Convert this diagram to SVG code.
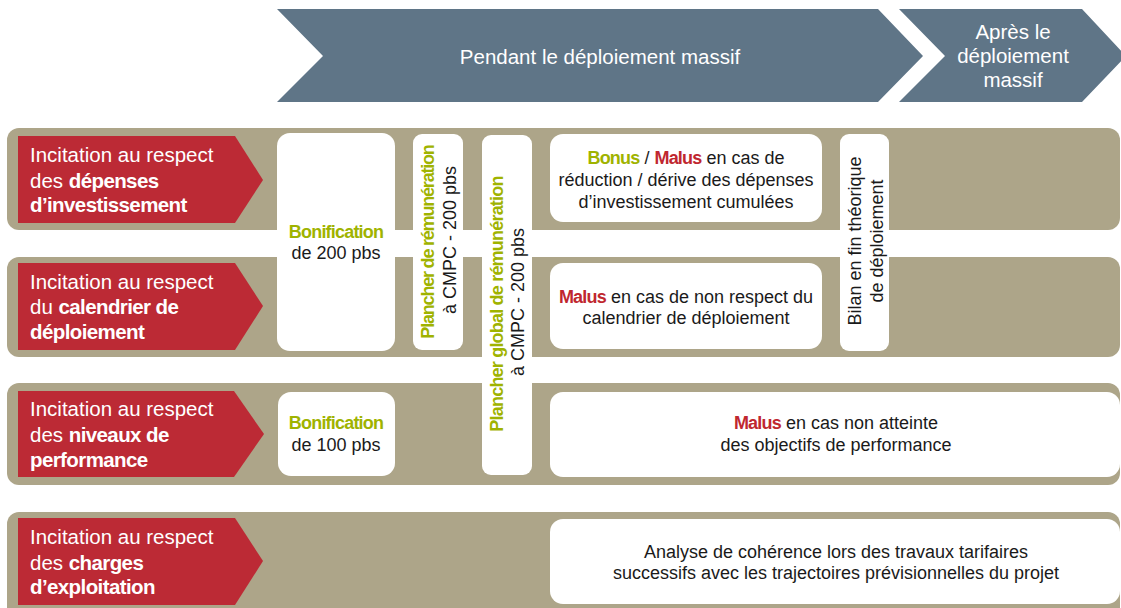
<svg xmlns="http://www.w3.org/2000/svg" width="1121" height="608" viewBox="0 0 1121 608">
<style>
text{font-family:"Liberation Sans",Arial,sans-serif;}
.phase{fill:#5f7587;}
.ph{fill:#ffffff;font-size:20.5px;text-anchor:middle;}
.row{fill:#ada589;}
.arrow{fill:#bc2a35;}
.lbl{fill:#ffffff;font-size:20.5px;}
.lbl .b{font-weight:bold;letter-spacing:-0.6px;}
.box{fill:#ffffff;}
.t{fill:#1a1a1a;font-size:18px;text-anchor:middle;}
.g{fill:#9fb300;font-weight:bold;letter-spacing:-0.8px;}
.r{fill:#c0272f;font-weight:bold;letter-spacing:-0.8px;}
</style>
<rect width="1121" height="608" fill="#ffffff"/>
<g id="phase-pendant">
<polygon class="phase" points="277,9 878,9 923,56 878,102 277,102 323,56"/>
<text class="ph" x="600" y="64">Pendant le déploiement massif</text>
</g>
<g id="phase-apres">
<polygon class="phase" points="899,9 1082,9 1126,56 1082,102 899,102 945,56"/>
<text class="ph" x="1013" y="39">Après le</text>
<text class="ph" x="1013" y="63">déploiement</text>
<text class="ph" x="1013" y="87">massif</text>
</g>
<g id="row-depenses">
<rect class="row" x="7" y="128" width="1113" height="102" rx="12"/>
<polygon class="arrow" points="18,136 235,136 263,180 235,223 18,223"/>
<text class="lbl" x="30" y="162">Incitation au respect</text>
<text class="lbl" x="30" y="188">des <tspan class="b">dépenses</tspan></text>
<text class="lbl" x="30" y="212"><tspan class="b">d’investissement</tspan></text>
</g>
<g id="row-calendrier">
<rect class="row" x="7" y="257" width="1113" height="100" rx="12"/>
<polygon class="arrow" points="18,263 235,263 263,306 235,350 18,350"/>
<text class="lbl" x="30" y="289">Incitation au respect</text>
<text class="lbl" x="30" y="314">du <tspan class="b">calendrier de</tspan></text>
<text class="lbl" x="30" y="339"><tspan class="b">déploiement</tspan></text>
</g>
<g id="row-performance">
<rect class="row" x="7" y="383" width="1113" height="102" rx="12"/>
<polygon class="arrow" points="18,391 234,391 264,434 234,477 18,477"/>
<text class="lbl" x="30" y="416">Incitation au respect</text>
<text class="lbl" x="30" y="442">des <tspan class="b">niveaux de</tspan></text>
<text class="lbl" x="30" y="467"><tspan class="b">performance</tspan></text>
</g>
<g id="row-charges">
<rect class="row" x="7" y="512" width="1113" height="110" rx="12"/>
<polygon class="arrow" points="18,518 235,518 263,561 235,605 18,605"/>
<text class="lbl" x="30" y="544">Incitation au respect</text>
<text class="lbl" x="30" y="570">des <tspan class="b">charges</tspan></text>
<text class="lbl" x="30" y="594"><tspan class="b">d’exploitation</tspan></text>
</g>
<g id="bonif-200">
<rect class="box" x="277" y="133" width="118" height="218" rx="13"/>
<text class="t" x="336" y="238"><tspan class="g">Bonification</tspan></text>
<text class="t" x="336" y="259">de 200 pbs</text>
</g>
<g id="plancher">
<rect class="box" x="413" y="134" width="50" height="216" rx="9"/>
<text class="t" x="434" y="242" transform="rotate(-90 434 242)"><tspan class="g" style="letter-spacing:-1.2px">Plancher de rémunération</tspan></text>
<text class="t" x="456" y="240" transform="rotate(-90 456 240)">à CMPC - 200 pbs</text>
</g>
<g id="plancher-global">
<rect class="box" x="482" y="135" width="50" height="340" rx="9"/>
<text class="t" x="503" y="304" transform="rotate(-90 503 304)"><tspan class="g">Plancher global de rémunération</tspan></text>
<text class="t" x="524" y="302" transform="rotate(-90 524 302)">à CMPC - 200 pbs</text>
</g>
<g id="bonus-malus-depenses">
<rect class="box" x="550" y="134" width="272" height="88" rx="13"/>
<text class="t" x="686" y="164"><tspan class="g">Bonus</tspan> / <tspan class="r">Malus</tspan> en cas de</text>
<text class="t" x="686" y="186">réduction / dérive des dépenses</text>
<text class="t" x="686" y="208">d’investissement cumulées</text>
</g>
<g id="malus-calendrier">
<rect class="box" x="550" y="263" width="272" height="86" rx="13"/>
<text class="t" x="686" y="303"><tspan class="r">Malus</tspan> en cas de non respect du</text>
<text class="t" x="686" y="324">calendrier de déploiement</text>
</g>
<g id="bilan">
<rect class="box" x="840" y="134" width="49" height="217" rx="9"/>
<text class="t" x="861" y="241" transform="rotate(-90 861 241)">Bilan en fin théorique</text>
<text class="t" x="883" y="241" transform="rotate(-90 883 241)">de déploiement</text>
</g>
<g id="bonif-100">
<rect class="box" x="278" y="392" width="117" height="84" rx="13"/>
<text class="t" x="336" y="429"><tspan class="g">Bonification</tspan></text>
<text class="t" x="336" y="451">de 100 pbs</text>
</g>
<g id="malus-performance">
<rect class="box" x="550" y="392" width="570" height="85" rx="13"/>
<text class="t" x="836" y="429"><tspan class="r">Malus</tspan> en cas non atteinte</text>
<text class="t" x="836" y="451">des objectifs de performance</text>
</g>
<g id="analyse-charges">
<rect class="box" x="550" y="519" width="570" height="85" rx="13"/>
<text class="t" x="836" y="558">Analyse de cohérence lors des travaux tarifaires</text>
<text class="t" x="836" y="579">successifs avec les trajectoires prévisionnelles du projet</text>
</g>
<g id="connectors"/>
</svg>
